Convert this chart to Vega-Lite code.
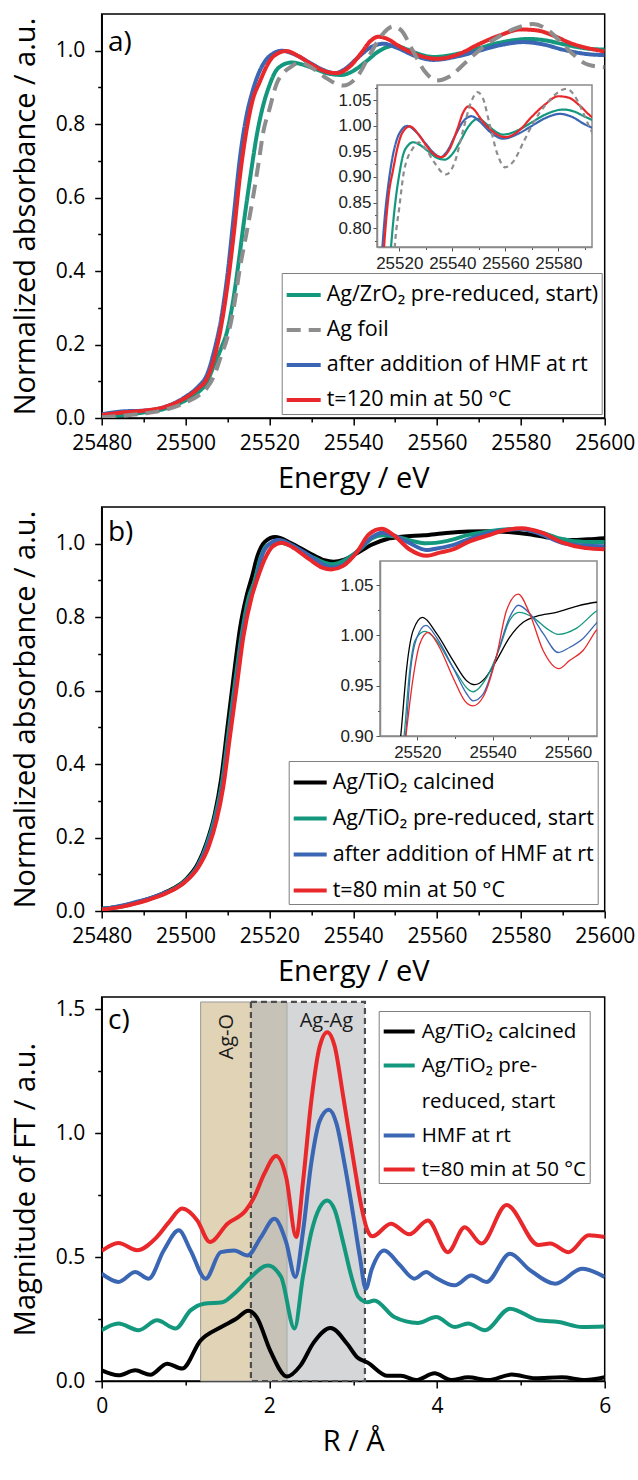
{
"$schema": "https://vega.github.io/schema/vega-lite/v6.json",
"autosize": {"type": "none"},
"padding": {"left": 101.7, "top": 14, "right": 536.3, "bottom": 1466},
"background": "white",
"config": {
  "font": "Open Sans",
  "view": {"stroke": "black", "strokeWidth": 1.5},
  "axis": {"grid": false, "domainColor": "black", "domainWidth": 1.5, "tickColor": "black", "tickWidth": 1.5, "tickSize": 7, "labelColor": "black", "labelFont": "Open Sans", "labelFontSize": 21, "titleFont": "Open Sans", "titleFontSize": 29, "titleFontWeight": "normal", "titleColor": "black", "labelFlush": false, "labelOverlap": false},
  "text": {"font": "Open Sans", "color": "black"},
  "style": {"guide-label": {"lineHeight": 36}}
},
"datasets": {
"xanes_a": [
{"series":"Ag/ZrO₂ pre-reduced, start)","E":25480,"A":0.003},{"series":"Ag/ZrO₂ pre-reduced, start)","E":25485,"A":0.008},{"series":"Ag/ZrO₂ pre-reduced, start)","E":25490,"A":0.015},{"series":"Ag/ZrO₂ pre-reduced, start)","E":25495,"A":0.025},{"series":"Ag/ZrO₂ pre-reduced, start)","E":25500,"A":0.048},{"series":"Ag/ZrO₂ pre-reduced, start)","E":25503,"A":0.07},{"series":"Ag/ZrO₂ pre-reduced, start)","E":25505,"A":0.095},{"series":"Ag/ZrO₂ pre-reduced, start)","E":25507,"A":0.15},{"series":"Ag/ZrO₂ pre-reduced, start)","E":25508.5,"A":0.19},{"series":"Ag/ZrO₂ pre-reduced, start)","E":25510,"A":0.24},{"series":"Ag/ZrO₂ pre-reduced, start)","E":25511.5,"A":0.33},{"series":"Ag/ZrO₂ pre-reduced, start)","E":25512.5,"A":0.41},{"series":"Ag/ZrO₂ pre-reduced, start)","E":25514,"A":0.54},{"series":"Ag/ZrO₂ pre-reduced, start)","E":25515.5,"A":0.66},{"series":"Ag/ZrO₂ pre-reduced, start)","E":25517,"A":0.77},{"series":"Ag/ZrO₂ pre-reduced, start)","E":25518.5,"A":0.85},{"series":"Ag/ZrO₂ pre-reduced, start)","E":25520,"A":0.905},{"series":"Ag/ZrO₂ pre-reduced, start)","E":25521.5,"A":0.944},{"series":"Ag/ZrO₂ pre-reduced, start)","E":25523,"A":0.96},{"series":"Ag/ZrO₂ pre-reduced, start)","E":25525.3,"A":0.968},{"series":"Ag/ZrO₂ pre-reduced, start)","E":25528,"A":0.962},{"series":"Ag/ZrO₂ pre-reduced, start)","E":25531,"A":0.95},{"series":"Ag/ZrO₂ pre-reduced, start)","E":25534,"A":0.938},{"series":"Ag/ZrO₂ pre-reduced, start)","E":25537.2,"A":0.934},{"series":"Ag/ZrO₂ pre-reduced, start)","E":25540,"A":0.945},{"series":"Ag/ZrO₂ pre-reduced, start)","E":25543,"A":0.97},{"series":"Ag/ZrO₂ pre-reduced, start)","E":25546,"A":0.998},{"series":"Ag/ZrO₂ pre-reduced, start)","E":25549.8,"A":1.014},{"series":"Ag/ZrO₂ pre-reduced, start)","E":25553,"A":1.003},{"series":"Ag/ZrO₂ pre-reduced, start)","E":25556,"A":0.99},{"series":"Ag/ZrO₂ pre-reduced, start)","E":25559.2,"A":0.983},{"series":"Ag/ZrO₂ pre-reduced, start)","E":25565,"A":0.992},{"series":"Ag/ZrO₂ pre-reduced, start)","E":25570,"A":1.007},{"series":"Ag/ZrO₂ pre-reduced, start)","E":25575,"A":1.022},{"series":"Ag/ZrO₂ pre-reduced, start)","E":25581.9,"A":1.032},{"series":"Ag/ZrO₂ pre-reduced, start)","E":25586,"A":1.028},{"series":"Ag/ZrO₂ pre-reduced, start)","E":25590,"A":1.018},{"series":"Ag/ZrO₂ pre-reduced, start)","E":25595.7,"A":1.006},{"series":"Ag/ZrO₂ pre-reduced, start)","E":25600,"A":1.003},
{"series":"after addition of HMF at rt","E":25480,"A":0.01},{"series":"after addition of HMF at rt","E":25485,"A":0.018},{"series":"after addition of HMF at rt","E":25490,"A":0.02},{"series":"after addition of HMF at rt","E":25495,"A":0.03},{"series":"after addition of HMF at rt","E":25500,"A":0.058},{"series":"after addition of HMF at rt","E":25503,"A":0.085},{"series":"after addition of HMF at rt","E":25505,"A":0.115},{"series":"after addition of HMF at rt","E":25507,"A":0.19},{"series":"after addition of HMF at rt","E":25508.5,"A":0.27},{"series":"after addition of HMF at rt","E":25510,"A":0.39},{"series":"after addition of HMF at rt","E":25511.5,"A":0.55},{"series":"after addition of HMF at rt","E":25513,"A":0.71},{"series":"after addition of HMF at rt","E":25514.5,"A":0.82},{"series":"after addition of HMF at rt","E":25516,"A":0.89},{"series":"after addition of HMF at rt","E":25517.5,"A":0.94},{"series":"after addition of HMF at rt","E":25519,"A":0.972},{"series":"after addition of HMF at rt","E":25521,"A":0.993},{"series":"after addition of HMF at rt","E":25523,"A":1.0},{"series":"after addition of HMF at rt","E":25526,"A":0.99},{"series":"after addition of HMF at rt","E":25530,"A":0.965},{"series":"after addition of HMF at rt","E":25533,"A":0.947},{"series":"after addition of HMF at rt","E":25535.6,"A":0.939},{"series":"after addition of HMF at rt","E":25538,"A":0.95},{"series":"after addition of HMF at rt","E":25541,"A":0.98},{"series":"after addition of HMF at rt","E":25544,"A":1.008},{"series":"after addition of HMF at rt","E":25547.3,"A":1.019},{"series":"after addition of HMF at rt","E":25550,"A":1.01},{"series":"after addition of HMF at rt","E":25555,"A":0.985},{"series":"after addition of HMF at rt","E":25559.2,"A":0.975},{"series":"after addition of HMF at rt","E":25565,"A":0.985},{"series":"after addition of HMF at rt","E":25570,"A":1.0},{"series":"after addition of HMF at rt","E":25575,"A":1.015},{"series":"after addition of HMF at rt","E":25580.6,"A":1.0235},{"series":"after addition of HMF at rt","E":25585,"A":1.018},{"series":"after addition of HMF at rt","E":25590,"A":1.003},{"series":"after addition of HMF at rt","E":25595.7,"A":0.991},{"series":"after addition of HMF at rt","E":25600,"A":0.988},
{"series":"t=120 min at 50 °C","E":25480,"A":0.008},{"series":"t=120 min at 50 °C","E":25485,"A":0.015},{"series":"t=120 min at 50 °C","E":25490,"A":0.02},{"series":"t=120 min at 50 °C","E":25495,"A":0.03},{"series":"t=120 min at 50 °C","E":25500,"A":0.055},{"series":"t=120 min at 50 °C","E":25503,"A":0.08},{"series":"t=120 min at 50 °C","E":25505,"A":0.105},{"series":"t=120 min at 50 °C","E":25507,"A":0.17},{"series":"t=120 min at 50 °C","E":25508.5,"A":0.25},{"series":"t=120 min at 50 °C","E":25510,"A":0.36},{"series":"t=120 min at 50 °C","E":25511.5,"A":0.5},{"series":"t=120 min at 50 °C","E":25513,"A":0.66},{"series":"t=120 min at 50 °C","E":25514.5,"A":0.78},{"series":"t=120 min at 50 °C","E":25516,"A":0.865},{"series":"t=120 min at 50 °C","E":25517.7,"A":0.915},{"series":"t=120 min at 50 °C","E":25519.6,"A":0.963},{"series":"t=120 min at 50 °C","E":25521,"A":0.985},{"series":"t=120 min at 50 °C","E":25524,"A":0.999},{"series":"t=120 min at 50 °C","E":25527,"A":0.985},{"series":"t=120 min at 50 °C","E":25530,"A":0.963},{"series":"t=120 min at 50 °C","E":25533,"A":0.945},{"series":"t=120 min at 50 °C","E":25536,"A":0.939},{"series":"t=120 min at 50 °C","E":25539,"A":0.955},{"series":"t=120 min at 50 °C","E":25542,"A":0.995},{"series":"t=120 min at 50 °C","E":25544,"A":1.025},{"series":"t=120 min at 50 °C","E":25546,"A":1.038},{"series":"t=120 min at 50 °C","E":25548,"A":1.033},{"series":"t=120 min at 50 °C","E":25551,"A":1.012},{"series":"t=120 min at 50 °C","E":25555,"A":0.99},{"series":"t=120 min at 50 °C","E":25560,"A":0.978},{"series":"t=120 min at 50 °C","E":25565,"A":0.99},{"series":"t=120 min at 50 °C","E":25570,"A":1.018},{"series":"t=120 min at 50 °C","E":25575,"A":1.042},{"series":"t=120 min at 50 °C","E":25580,"A":1.058},{"series":"t=120 min at 50 °C","E":25584,"A":1.055},{"series":"t=120 min at 50 °C","E":25588,"A":1.04},{"series":"t=120 min at 50 °C","E":25592,"A":1.02},{"series":"t=120 min at 50 °C","E":25596,"A":1.007},{"series":"t=120 min at 50 °C","E":25600,"A":0.998},
{"series":"Ag foil","E":25480,"A":0.002},{"series":"Ag foil","E":25485,"A":0.006},{"series":"Ag foil","E":25490,"A":0.012},{"series":"Ag foil","E":25495,"A":0.022},{"series":"Ag foil","E":25500,"A":0.042},{"series":"Ag foil","E":25503,"A":0.06},{"series":"Ag foil","E":25505,"A":0.08},{"series":"Ag foil","E":25507,"A":0.12},{"series":"Ag foil","E":25508.5,"A":0.17},{"series":"Ag foil","E":25510,"A":0.22},{"series":"Ag foil","E":25511.5,"A":0.3},{"series":"Ag foil","E":25513,"A":0.41},{"series":"Ag foil","E":25514.5,"A":0.5},{"series":"Ag foil","E":25516,"A":0.594},{"series":"Ag foil","E":25517.5,"A":0.7},{"series":"Ag foil","E":25518.5,"A":0.776},{"series":"Ag foil","E":25520,"A":0.84},{"series":"Ag foil","E":25521.8,"A":0.912},{"series":"Ag foil","E":25523,"A":0.935},{"series":"Ag foil","E":25525,"A":0.955},{"series":"Ag foil","E":25527.2,"A":0.968},{"series":"Ag foil","E":25530,"A":0.955},{"series":"Ag foil","E":25533,"A":0.93},{"series":"Ag foil","E":25537.6,"A":0.905},{"series":"Ag foil","E":25541,"A":0.93},{"series":"Ag foil","E":25544,"A":0.99},{"series":"Ag foil","E":25547,"A":1.045},{"series":"Ag foil","E":25549.5,"A":1.066},{"series":"Ag foil","E":25551.5,"A":1.055},{"series":"Ag foil","E":25554,"A":1.005},{"series":"Ag foil","E":25557,"A":0.945},{"series":"Ag foil","E":25559.9,"A":0.919},{"series":"Ag foil","E":25563,"A":0.93},{"series":"Ag foil","E":25567,"A":0.97},{"series":"Ag foil","E":25571,"A":1.01},{"series":"Ag foil","E":25575,"A":1.04},{"series":"Ag foil","E":25579,"A":1.062},{"series":"Ag foil","E":25582.9,"A":1.0725},{"series":"Ag foil","E":25586,"A":1.06},{"series":"Ag foil","E":25589,"A":1.03},{"series":"Ag foil","E":25592,"A":0.995},{"series":"Ag foil","E":25596,"A":0.962},{"series":"Ag foil","E":25600,"A":0.955}
],
"xanes_b": [
{"series":"Ag/TiO₂ calcined","E":25480,"A":0.006},{"series":"Ag/TiO₂ calcined","E":25485,"A":0.014},{"series":"Ag/TiO₂ calcined","E":25488,"A":0.022},{"series":"Ag/TiO₂ calcined","E":25491,"A":0.032},{"series":"Ag/TiO₂ calcined","E":25494.3,"A":0.046},{"series":"Ag/TiO₂ calcined","E":25497,"A":0.061},{"series":"Ag/TiO₂ calcined","E":25499.9,"A":0.084},{"series":"Ag/TiO₂ calcined","E":25503,"A":0.13},{"series":"Ag/TiO₂ calcined","E":25505,"A":0.185},{"series":"Ag/TiO₂ calcined","E":25507,"A":0.265},{"series":"Ag/TiO₂ calcined","E":25508.5,"A":0.36},{"series":"Ag/TiO₂ calcined","E":25510,"A":0.5},{"series":"Ag/TiO₂ calcined","E":25511.5,"A":0.64},{"series":"Ag/TiO₂ calcined","E":25513,"A":0.77},{"series":"Ag/TiO₂ calcined","E":25514.5,"A":0.855},{"series":"Ag/TiO₂ calcined","E":25515.85,"A":0.91},{"series":"Ag/TiO₂ calcined","E":25517.2,"A":0.968},{"series":"Ag/TiO₂ calcined","E":25518.9,"A":1.005},{"series":"Ag/TiO₂ calcined","E":25521.4,"A":1.018},{"series":"Ag/TiO₂ calcined","E":25525.1,"A":1.002},{"series":"Ag/TiO₂ calcined","E":25529.5,"A":0.975},{"series":"Ag/TiO₂ calcined","E":25533.1,"A":0.955},{"series":"Ag/TiO₂ calcined","E":25535.3,"A":0.951},{"series":"Ag/TiO₂ calcined","E":25537.9,"A":0.957},{"series":"Ag/TiO₂ calcined","E":25541,"A":0.975},{"series":"Ag/TiO₂ calcined","E":25544.5,"A":0.998},{"series":"Ag/TiO₂ calcined","E":25548.1,"A":1.013},{"series":"Ag/TiO₂ calcined","E":25551.6,"A":1.019},{"series":"Ag/TiO₂ calcined","E":25556.9,"A":1.023},{"series":"Ag/TiO₂ calcined","E":25562.2,"A":1.029},{"series":"Ag/TiO₂ calcined","E":25567.5,"A":1.033},{"series":"Ag/TiO₂ calcined","E":25572,"A":1.034},{"series":"Ag/TiO₂ calcined","E":25577,"A":1.032},{"series":"Ag/TiO₂ calcined","E":25582,"A":1.026},{"series":"Ag/TiO₂ calcined","E":25587,"A":1.016},{"series":"Ag/TiO₂ calcined","E":25592,"A":1.01},{"series":"Ag/TiO₂ calcined","E":25596,"A":1.012},{"series":"Ag/TiO₂ calcined","E":25600,"A":1.015},
{"series":"Ag/TiO₂ pre-reduced, start","E":25480,"A":0.006},{"series":"Ag/TiO₂ pre-reduced, start","E":25485,"A":0.013},{"series":"Ag/TiO₂ pre-reduced, start","E":25488,"A":0.021},{"series":"Ag/TiO₂ pre-reduced, start","E":25491,"A":0.031},{"series":"Ag/TiO₂ pre-reduced, start","E":25494.3,"A":0.045},{"series":"Ag/TiO₂ pre-reduced, start","E":25497,"A":0.059},{"series":"Ag/TiO₂ pre-reduced, start","E":25499.9,"A":0.082},{"series":"Ag/TiO₂ pre-reduced, start","E":25503,"A":0.125},{"series":"Ag/TiO₂ pre-reduced, start","E":25505,"A":0.178},{"series":"Ag/TiO₂ pre-reduced, start","E":25507,"A":0.255},{"series":"Ag/TiO₂ pre-reduced, start","E":25508.7,"A":0.35},{"series":"Ag/TiO₂ pre-reduced, start","E":25510.3,"A":0.49},{"series":"Ag/TiO₂ pre-reduced, start","E":25511.9,"A":0.63},{"series":"Ag/TiO₂ pre-reduced, start","E":25513.5,"A":0.76},{"series":"Ag/TiO₂ pre-reduced, start","E":25515,"A":0.85},{"series":"Ag/TiO₂ pre-reduced, start","E":25516.5,"A":0.9},{"series":"Ag/TiO₂ pre-reduced, start","E":25517.9,"A":0.962},{"series":"Ag/TiO₂ pre-reduced, start","E":25519.4,"A":0.995},{"series":"Ag/TiO₂ pre-reduced, start","E":25522,"A":1.004},{"series":"Ag/TiO₂ pre-reduced, start","E":25525.1,"A":0.995},{"series":"Ag/TiO₂ pre-reduced, start","E":25529.5,"A":0.968},{"series":"Ag/TiO₂ pre-reduced, start","E":25534.8,"A":0.944},{"series":"Ag/TiO₂ pre-reduced, start","E":25538.4,"A":0.958},{"series":"Ag/TiO₂ pre-reduced, start","E":25541.9,"A":0.988},{"series":"Ag/TiO₂ pre-reduced, start","E":25544.5,"A":1.015},{"series":"Ag/TiO₂ pre-reduced, start","E":25547,"A":1.023},{"series":"Ag/TiO₂ pre-reduced, start","E":25550.7,"A":1.018},{"series":"Ag/TiO₂ pre-reduced, start","E":25554.3,"A":1.007},{"series":"Ag/TiO₂ pre-reduced, start","E":25557.4,"A":1.001},{"series":"Ag/TiO₂ pre-reduced, start","E":25562.2,"A":1.007},{"series":"Ag/TiO₂ pre-reduced, start","E":25567.5,"A":1.024},{"series":"Ag/TiO₂ pre-reduced, start","E":25572,"A":1.033},{"series":"Ag/TiO₂ pre-reduced, start","E":25576,"A":1.039},{"series":"Ag/TiO₂ pre-reduced, start","E":25580,"A":1.04},{"series":"Ag/TiO₂ pre-reduced, start","E":25585,"A":1.03},{"series":"Ag/TiO₂ pre-reduced, start","E":25590,"A":1.012},{"series":"Ag/TiO₂ pre-reduced, start","E":25595,"A":1.005},{"series":"Ag/TiO₂ pre-reduced, start","E":25600,"A":1.005},
{"series":"after addition of HMF at rt","E":25480,"A":0.005},{"series":"after addition of HMF at rt","E":25485,"A":0.015},{"series":"after addition of HMF at rt","E":25488,"A":0.024},{"series":"after addition of HMF at rt","E":25491,"A":0.033},{"series":"after addition of HMF at rt","E":25494.3,"A":0.046},{"series":"after addition of HMF at rt","E":25497,"A":0.058},{"series":"after addition of HMF at rt","E":25499.9,"A":0.08},{"series":"after addition of HMF at rt","E":25503,"A":0.122},{"series":"after addition of HMF at rt","E":25505.2,"A":0.176},{"series":"after addition of HMF at rt","E":25507.2,"A":0.25},{"series":"after addition of HMF at rt","E":25508.9,"A":0.345},{"series":"after addition of HMF at rt","E":25510.5,"A":0.483},{"series":"after addition of HMF at rt","E":25512.1,"A":0.62},{"series":"after addition of HMF at rt","E":25513.7,"A":0.755},{"series":"after addition of HMF at rt","E":25515.5,"A":0.85},{"series":"after addition of HMF at rt","E":25517,"A":0.905},{"series":"after addition of HMF at rt","E":25518.2,"A":0.965},{"series":"after addition of HMF at rt","E":25519.8,"A":0.997},{"series":"after addition of HMF at rt","E":25522.3,"A":1.01},{"series":"after addition of HMF at rt","E":25525.1,"A":0.998},{"series":"after addition of HMF at rt","E":25529.5,"A":0.968},{"series":"after addition of HMF at rt","E":25533.1,"A":0.942},{"series":"after addition of HMF at rt","E":25534.8,"A":0.935},{"series":"after addition of HMF at rt","E":25537.5,"A":0.942},{"series":"after addition of HMF at rt","E":25541.5,"A":0.985},{"series":"after addition of HMF at rt","E":25544.5,"A":1.018},{"series":"after addition of HMF at rt","E":25546.8,"A":1.03},{"series":"after addition of HMF at rt","E":25549.8,"A":1.022},{"series":"after addition of HMF at rt","E":25553.4,"A":1.002},{"series":"after addition of HMF at rt","E":25557.4,"A":0.983},{"series":"after addition of HMF at rt","E":25560.4,"A":0.988},{"series":"after addition of HMF at rt","E":25564,"A":0.997},{"series":"after addition of HMF at rt","E":25567.5,"A":1.012},{"series":"after addition of HMF at rt","E":25572,"A":1.028},{"series":"after addition of HMF at rt","E":25576,"A":1.037},{"series":"after addition of HMF at rt","E":25580,"A":1.04},{"series":"after addition of HMF at rt","E":25585,"A":1.025},{"series":"after addition of HMF at rt","E":25590,"A":1.002},{"series":"after addition of HMF at rt","E":25595,"A":0.995},{"series":"after addition of HMF at rt","E":25600,"A":0.993},
{"series":"t=80 min at 50 °C","E":25480,"A":0.004},{"series":"t=80 min at 50 °C","E":25485,"A":0.012},{"series":"t=80 min at 50 °C","E":25488,"A":0.02},{"series":"t=80 min at 50 °C","E":25491,"A":0.03},{"series":"t=80 min at 50 °C","E":25494.3,"A":0.043},{"series":"t=80 min at 50 °C","E":25497,"A":0.057},{"series":"t=80 min at 50 °C","E":25499.9,"A":0.079},{"series":"t=80 min at 50 °C","E":25503.1,"A":0.12},{"series":"t=80 min at 50 °C","E":25505.5,"A":0.175},{"series":"t=80 min at 50 °C","E":25507.4,"A":0.247},{"series":"t=80 min at 50 °C","E":25509,"A":0.338},{"series":"t=80 min at 50 °C","E":25510.6,"A":0.475},{"series":"t=80 min at 50 °C","E":25512.2,"A":0.61},{"series":"t=80 min at 50 °C","E":25513.8,"A":0.747},{"series":"t=80 min at 50 °C","E":25515.8,"A":0.856},{"series":"t=80 min at 50 °C","E":25517.6,"A":0.92},{"series":"t=80 min at 50 °C","E":25518.9,"A":0.958},{"series":"t=80 min at 50 °C","E":25520.7,"A":0.992},{"series":"t=80 min at 50 °C","E":25522.9,"A":1.003},{"series":"t=80 min at 50 °C","E":25525.6,"A":0.99},{"series":"t=80 min at 50 °C","E":25529.5,"A":0.958},{"series":"t=80 min at 50 °C","E":25532.6,"A":0.935},{"series":"t=80 min at 50 °C","E":25534.8,"A":0.93},{"series":"t=80 min at 50 °C","E":25537.5,"A":0.939},{"series":"t=80 min at 50 °C","E":25541,"A":0.979},{"series":"t=80 min at 50 °C","E":25543.7,"A":1.025},{"series":"t=80 min at 50 °C","E":25546.8,"A":1.041},{"series":"t=80 min at 50 °C","E":25549.8,"A":1.022},{"series":"t=80 min at 50 °C","E":25553.4,"A":0.985},{"series":"t=80 min at 50 °C","E":25557.6,"A":0.967},{"series":"t=80 min at 50 °C","E":25560.4,"A":0.975},{"series":"t=80 min at 50 °C","E":25564,"A":0.985},{"series":"t=80 min at 50 °C","E":25567.5,"A":1.005},{"series":"t=80 min at 50 °C","E":25572,"A":1.022},{"series":"t=80 min at 50 °C","E":25576,"A":1.036},{"series":"t=80 min at 50 °C","E":25580.2,"A":1.042},{"series":"t=80 min at 50 °C","E":25585,"A":1.03},{"series":"t=80 min at 50 °C","E":25590,"A":1.003},{"series":"t=80 min at 50 °C","E":25595.4,"A":0.988},{"series":"t=80 min at 50 °C","E":25600,"A":0.985}
],
"ft_c": [
{"series":"Ag/TiO₂ calcined","R":0,"M":0.043},{"series":"Ag/TiO₂ calcined","R":0.2,"M":0.023},{"series":"Ag/TiO₂ calcined","R":0.4,"M":0.043},{"series":"Ag/TiO₂ calcined","R":0.58,"M":0.025},{"series":"Ag/TiO₂ calcined","R":0.78,"M":0.07},{"series":"Ag/TiO₂ calcined","R":0.96,"M":0.05},{"series":"Ag/TiO₂ calcined","R":1.18,"M":0.164},{"series":"Ag/TiO₂ calcined","R":1.42,"M":0.217},{"series":"Ag/TiO₂ calcined","R":1.6,"M":0.25},{"series":"Ag/TiO₂ calcined","R":1.75,"M":0.284},{"series":"Ag/TiO₂ calcined","R":1.85,"M":0.257},{"series":"Ag/TiO₂ calcined","R":2.01,"M":0.123},{"series":"Ag/TiO₂ calcined","R":2.21,"M":0.018},{"series":"Ag/TiO₂ calcined","R":2.37,"M":0.062},{"series":"Ag/TiO₂ calcined","R":2.53,"M":0.156},{"series":"Ag/TiO₂ calcined","R":2.73,"M":0.214},{"series":"Ag/TiO₂ calcined","R":2.93,"M":0.149},{"series":"Ag/TiO₂ calcined","R":3.05,"M":0.095},{"series":"Ag/TiO₂ calcined","R":3.17,"M":0.075},{"series":"Ag/TiO₂ calcined","R":3.41,"M":0.021},{"series":"Ag/TiO₂ calcined","R":3.57,"M":0.021},{"series":"Ag/TiO₂ calcined","R":3.75,"M":0.004},{"series":"Ag/TiO₂ calcined","R":3.97,"M":0.031},{"series":"Ag/TiO₂ calcined","R":4.17,"M":0.004},{"series":"Ag/TiO₂ calcined","R":4.37,"M":0.015},{"series":"Ag/TiO₂ calcined","R":4.61,"M":0.004},{"series":"Ag/TiO₂ calcined","R":4.89,"M":0.026},{"series":"Ag/TiO₂ calcined","R":5.17,"M":0.011},{"series":"Ag/TiO₂ calcined","R":5.49,"M":0.015},{"series":"Ag/TiO₂ calcined","R":5.77,"M":0.004},{"series":"Ag/TiO₂ calcined","R":6.0,"M":0.015},
{"series":"Ag/TiO₂ pre-reduced, start","R":0,"M":0.205},{"series":"Ag/TiO₂ pre-reduced, start","R":0.2,"M":0.232},{"series":"Ag/TiO₂ pre-reduced, start","R":0.44,"M":0.205},{"series":"Ag/TiO₂ pre-reduced, start","R":0.66,"M":0.245},{"series":"Ag/TiO₂ pre-reduced, start","R":0.88,"M":0.212},{"series":"Ag/TiO₂ pre-reduced, start","R":1.06,"M":0.285},{"series":"Ag/TiO₂ pre-reduced, start","R":1.22,"M":0.312},{"series":"Ag/TiO₂ pre-reduced, start","R":1.44,"M":0.318},{"series":"Ag/TiO₂ pre-reduced, start","R":1.58,"M":0.352},{"series":"Ag/TiO₂ pre-reduced, start","R":1.76,"M":0.413},{"series":"Ag/TiO₂ pre-reduced, start","R":1.98,"M":0.466},{"series":"Ag/TiO₂ pre-reduced, start","R":2.14,"M":0.42},{"series":"Ag/TiO₂ pre-reduced, start","R":2.3,"M":0.212},{"series":"Ag/TiO₂ pre-reduced, start","R":2.4,"M":0.42},{"series":"Ag/TiO₂ pre-reduced, start","R":2.5,"M":0.6},{"series":"Ag/TiO₂ pre-reduced, start","R":2.6,"M":0.7},{"series":"Ag/TiO₂ pre-reduced, start","R":2.69,"M":0.729},{"series":"Ag/TiO₂ pre-reduced, start","R":2.78,"M":0.69},{"series":"Ag/TiO₂ pre-reduced, start","R":2.88,"M":0.56},{"series":"Ag/TiO₂ pre-reduced, start","R":2.98,"M":0.42},{"series":"Ag/TiO₂ pre-reduced, start","R":3.06,"M":0.34},{"series":"Ag/TiO₂ pre-reduced, start","R":3.17,"M":0.318},{"series":"Ag/TiO₂ pre-reduced, start","R":3.25,"M":0.325},{"series":"Ag/TiO₂ pre-reduced, start","R":3.49,"M":0.258},{"series":"Ag/TiO₂ pre-reduced, start","R":3.77,"M":0.234},{"series":"Ag/TiO₂ pre-reduced, start","R":3.99,"M":0.258},{"series":"Ag/TiO₂ pre-reduced, start","R":4.21,"M":0.218},{"series":"Ag/TiO₂ pre-reduced, start","R":4.37,"M":0.232},{"series":"Ag/TiO₂ pre-reduced, start","R":4.57,"M":0.205},{"series":"Ag/TiO₂ pre-reduced, start","R":4.87,"M":0.292},{"series":"Ag/TiO₂ pre-reduced, start","R":5.21,"M":0.245},{"series":"Ag/TiO₂ pre-reduced, start","R":5.45,"M":0.238},{"series":"Ag/TiO₂ pre-reduced, start","R":5.73,"M":0.218},{"series":"Ag/TiO₂ pre-reduced, start","R":6.0,"M":0.22},
{"series":"HMF at rt","R":0,"M":0.433},{"series":"HMF at rt","R":0.2,"M":0.4},{"series":"HMF at rt","R":0.4,"M":0.44},{"series":"HMF at rt","R":0.56,"M":0.413},{"series":"HMF at rt","R":0.74,"M":0.527},{"series":"HMF at rt","R":0.92,"M":0.608},{"series":"HMF at rt","R":1.06,"M":0.527},{"series":"HMF at rt","R":1.24,"M":0.413},{"series":"HMF at rt","R":1.42,"M":0.52},{"series":"HMF at rt","R":1.58,"M":0.527},{"series":"HMF at rt","R":1.74,"M":0.507},{"series":"HMF at rt","R":1.9,"M":0.581},{"series":"HMF at rt","R":2.06,"M":0.655},{"series":"HMF at rt","R":2.2,"M":0.561},{"series":"HMF at rt","R":2.31,"M":0.42},{"series":"HMF at rt","R":2.4,"M":0.6},{"series":"HMF at rt","R":2.5,"M":0.88},{"series":"HMF at rt","R":2.6,"M":1.05},{"series":"HMF at rt","R":2.71,"M":1.095},{"series":"HMF at rt","R":2.8,"M":1.04},{"series":"HMF at rt","R":2.9,"M":0.87},{"series":"HMF at rt","R":3.0,"M":0.67},{"series":"HMF at rt","R":3.08,"M":0.5},{"series":"HMF at rt","R":3.15,"M":0.372},{"series":"HMF at rt","R":3.22,"M":0.45},{"series":"HMF at rt","R":3.37,"M":0.527},{"series":"HMF at rt","R":3.55,"M":0.47},{"series":"HMF at rt","R":3.73,"M":0.413},{"series":"HMF at rt","R":3.87,"M":0.44},{"series":"HMF at rt","R":3.97,"M":0.42},{"series":"HMF at rt","R":4.21,"M":0.386},{"series":"HMF at rt","R":4.41,"M":0.426},{"series":"HMF at rt","R":4.59,"M":0.4},{"series":"HMF at rt","R":4.87,"M":0.514},{"series":"HMF at rt","R":5.1,"M":0.45},{"series":"HMF at rt","R":5.41,"M":0.393},{"series":"HMF at rt","R":5.73,"M":0.453},{"series":"HMF at rt","R":6.0,"M":0.42},
{"series":"t=80 min at 50 °C","R":0,"M":0.525},{"series":"t=80 min at 50 °C","R":0.2,"M":0.557},{"series":"t=80 min at 50 °C","R":0.42,"M":0.528},{"series":"t=80 min at 50 °C","R":0.66,"M":0.582},{"series":"t=80 min at 50 °C","R":0.8,"M":0.64},{"series":"t=80 min at 50 °C","R":0.96,"M":0.696},{"series":"t=80 min at 50 °C","R":1.14,"M":0.648},{"series":"t=80 min at 50 °C","R":1.29,"M":0.561},{"series":"t=80 min at 50 °C","R":1.5,"M":0.635},{"series":"t=80 min at 50 °C","R":1.72,"M":0.689},{"series":"t=80 min at 50 °C","R":1.82,"M":0.743},{"series":"t=80 min at 50 °C","R":1.94,"M":0.837},{"series":"t=80 min at 50 °C","R":2.08,"M":0.908},{"series":"t=80 min at 50 °C","R":2.2,"M":0.823},{"series":"t=80 min at 50 °C","R":2.32,"M":0.581},{"series":"t=80 min at 50 °C","R":2.4,"M":0.8},{"series":"t=80 min at 50 °C","R":2.5,"M":1.13},{"series":"t=80 min at 50 °C","R":2.6,"M":1.35},{"series":"t=80 min at 50 °C","R":2.69,"M":1.408},{"series":"t=80 min at 50 °C","R":2.78,"M":1.35},{"series":"t=80 min at 50 °C","R":2.88,"M":1.15},{"series":"t=80 min at 50 °C","R":3.01,"M":0.877},{"series":"t=80 min at 50 °C","R":3.1,"M":0.7},{"series":"t=80 min at 50 °C","R":3.17,"M":0.608},{"series":"t=80 min at 50 °C","R":3.23,"M":0.584},{"series":"t=80 min at 50 °C","R":3.45,"M":0.635},{"series":"t=80 min at 50 °C","R":3.67,"M":0.592},{"series":"t=80 min at 50 °C","R":3.89,"M":0.648},{"series":"t=80 min at 50 °C","R":4.13,"M":0.52},{"series":"t=80 min at 50 °C","R":4.33,"M":0.621},{"series":"t=80 min at 50 °C","R":4.53,"M":0.555},{"series":"t=80 min at 50 °C","R":4.83,"M":0.71},{"series":"t=80 min at 50 °C","R":5.21,"M":0.549},{"series":"t=80 min at 50 °C","R":5.35,"M":0.555},{"series":"t=80 min at 50 °C","R":5.57,"M":0.52},{"series":"t=80 min at 50 °C","R":5.81,"M":0.588},{"series":"t=80 min at 50 °C","R":6.0,"M":0.581}
]
},
"bounds": "flush",
"spacing": 71,
"resolve": {"scale": {"color": "independent", "strokeDash": "independent"}},
"vconcat": [
 {"bounds": "flush", "resolve": {"scale": {"color": "independent", "strokeDash": "independent"}}, "vconcat": [
  {"width": 503, "height": 404, "data": {"name": "xanes_a"},
   "encoding": {
    "x": {"field": "E", "type": "quantitative", "scale": {"domain": [25480, 25600], "nice": false, "zero": false},
          "axis": {"title": "Energy / eV", "values": [25480,25490,25500,25510,25520,25530,25540,25550,25560,25570,25580,25590,25600], "format": "d", "labelExpr": "datum.value % 20 === 0 ? datum.label : ''", "tickSize": {"condition": {"test": "datum.value % 20 === 0", "value": 7}, "value": 4}, "labelPadding": 7, "titlePadding": 11}},
    "y": {"field": "A", "type": "quantitative", "scale": {"domain": [0, 1.1], "nice": false},
          "axis": {"title": "Normalized absorbance / a.u.", "values": [0,0.1,0.2,0.3,0.4,0.5,0.6,0.7,0.8,0.9,1.0], "labelExpr": "round(datum.value*10) % 2 === 0 ? format(datum.value, '.1f') : ''", "tickSize": {"condition": {"test": "round(datum.value*10) % 2 === 0", "value": 7}, "value": 4}, "labelPadding": 10, "titlePadding": 15}}
   },
   "layer": [
    {"mark": {"type": "line", "strokeWidth": 4, "clip": true, "interpolate": "monotone"},
     "encoding": {
      "color": {"field": "series", "type": "nominal",
            "scale": {"domain": ["Ag/ZrO₂ pre-reduced, start)", "Ag foil", "after addition of HMF at rt", "t=120 min at 50 °C"], "range": ["#13987e", "#8d8d8d", "#3b66b3", "#e8282b"]},
            "legend": {"title": null, "orient": "none", "legendX": 180, "legendY": 259, "symbolType": "stroke", "symbolSize": 1156, "symbolStrokeWidth": 4, "labelFontSize": 21.5, "labelFont": "Open Sans", "labelColor": "black", "labelLimit": 500, "strokeColor": "#7f7f7f", "fillColor": "white", "padding": 3, "rowPadding": 5, "labelOffset": 4}},
      "strokeDash": {"field": "series", "type": "nominal",
            "scale": {"domain": ["Ag/ZrO₂ pre-reduced, start)", "Ag foil", "after addition of HMF at rt", "t=120 min at 50 °C"], "range": [[1,0],[14,8],[1,0],[1,0]]},
            "legend": {"title": null, "orient": "none", "legendX": 180, "legendY": 259, "symbolType": "stroke", "symbolSize": 1156, "symbolStrokeWidth": 4, "labelFontSize": 21.5, "labelFont": "Open Sans", "labelColor": "black", "labelLimit": 500, "strokeColor": "#7f7f7f", "fillColor": "white", "padding": 3, "rowPadding": 5, "labelOffset": 4}}
     }},
    {"data": {"values": [{"label": "a)", "E": 25481.5, "A": 1.022}]},
     "mark": {"type": "text", "align": "left", "baseline": "middle", "fontSize": 28},
     "encoding": {"text": {"field": "label"}}}
   ]}
 ]},
 {"bounds": "flush", "spacing": 422, "resolve": {"scale": {"color": "independent", "strokeDash": "independent"}}, "vconcat": [
  {"bounds": "flush", "spacing": 275.3, "resolve": {"scale": {"color": "independent", "strokeDash": "independent"}}, "hconcat": [
   {"bounds": "flush", "vconcat": [{"width": 1, "height": 1, "data": {"values": [{"k": 0}]}, "mark": {"type": "point", "opacity": 0}, "view": {"stroke": null}}]},
   {"bounds": "flush", "resolve": {"scale": {"color": "independent", "strokeDash": "independent"}}, "vconcat": [
    {"width": 215, "height": 162, "data": {"name": "xanes_a"},
     "view": {"stroke": "#8a8a8a", "strokeWidth": 1.5, "fill": "white"},
     "mark": {"type": "line", "strokeWidth": 2.2, "clip": true, "interpolate": "monotone"},
     "encoding": {
      "x": {"field": "E", "type": "quantitative", "scale": {"domain": [25511.6, 25592.7], "nice": false, "zero": false},
            "axis": {"title": null, "values": [25520,25530,25540,25550,25560,25570,25580,25590], "format": "d", "labelExpr": "datum.value % 20 === 0 ? datum.label : ''", "tickSize": {"condition": {"test": "datum.value % 20 === 0", "value": 4}, "value": 2.5}, "labelFont": "Liberation Sans", "labelFontSize": 17, "labelColor": "#222222", "domainColor": "#8a8a8a", "domainWidth": 1.5, "tickColor": "#555555", "tickWidth": 1, "labelPadding": 4}},
      "y": {"field": "A", "type": "quantitative", "scale": {"domain": [0.763, 1.08], "nice": false, "zero": false},
            "axis": {"title": null, "values": [0.775,0.8,0.825,0.85,0.875,0.9,0.925,0.95,0.975,1.0,1.025,1.05,1.075], "labelExpr": "round(datum.value*40) % 2 === 0 ? format(datum.value, '.2f') : ''", "tickSize": {"condition": {"test": "round(datum.value*40) % 2 === 0", "value": 4}, "value": 2.5}, "labelFont": "Liberation Sans", "labelFontSize": 17, "labelColor": "#222222", "domainColor": "#8a8a8a", "domainWidth": 1.5, "tickColor": "#555555", "tickWidth": 1, "labelPadding": 2}},
      "color": {"field": "series", "type": "nominal", "scale": {"domain": ["Ag/ZrO₂ pre-reduced, start)", "Ag foil", "after addition of HMF at rt", "t=120 min at 50 °C"], "range": ["#13987e", "#8d8d8d", "#3b66b3", "#e8282b"]}, "legend": null},
      "strokeDash": {"field": "series", "type": "nominal", "scale": {"domain": ["Ag/ZrO₂ pre-reduced, start)", "Ag foil", "after addition of HMF at rt", "t=120 min at 50 °C"], "range": [[1,0],[5,4],[1,0],[1,0]]}, "legend": null}
     }}
   ]}
  ]},
  {"bounds": "flush", "spacing": 54, "resolve": {"scale": {"color": "independent", "strokeDash": "independent"}}, "vconcat": [
   {"bounds": "flush", "resolve": {"scale": {"color": "independent", "strokeDash": "independent"}}, "vconcat": [
    {"width": 503, "height": 404, "data": {"name": "xanes_b"},
     "encoding": {
      "x": {"field": "E", "type": "quantitative", "scale": {"domain": [25480, 25600], "nice": false, "zero": false},
            "axis": {"title": "Energy / eV", "values": [25480,25490,25500,25510,25520,25530,25540,25550,25560,25570,25580,25590,25600], "format": "d", "labelExpr": "datum.value % 20 === 0 ? datum.label : ''", "tickSize": {"condition": {"test": "datum.value % 20 === 0", "value": 7}, "value": 4}, "labelPadding": 7, "titlePadding": 11}},
      "y": {"field": "A", "type": "quantitative", "scale": {"domain": [0, 1.1], "nice": false},
            "axis": {"title": "Normalized absorbance / a.u.", "values": [0,0.1,0.2,0.3,0.4,0.5,0.6,0.7,0.8,0.9,1.0], "labelExpr": "round(datum.value*10) % 2 === 0 ? format(datum.value, '.1f') : ''", "tickSize": {"condition": {"test": "round(datum.value*10) % 2 === 0", "value": 7}, "value": 4}, "labelPadding": 10, "titlePadding": 15}}
     },
     "layer": [
      {"mark": {"type": "line", "strokeWidth": 4, "clip": true, "interpolate": "monotone"},
       "encoding": {
        "color": {"field": "series", "type": "nominal",
              "scale": {"domain": ["Ag/TiO₂ calcined", "Ag/TiO₂ pre-reduced, start", "after addition of HMF at rt", "t=80 min at 50 °C"], "range": ["#000000", "#13987e", "#3b66b3", "#e8282b"]},
              "legend": {"title": null, "orient": "none", "legendX": 187, "legendY": 254, "symbolType": "stroke", "symbolSize": 1089, "symbolStrokeWidth": 4, "labelFontSize": 21.5, "labelFont": "Open Sans", "labelColor": "black", "labelLimit": 500, "strokeColor": "#7f7f7f", "fillColor": "white", "padding": 3, "rowPadding": 7, "labelOffset": 4}}
       }},
      {"data": {"values": [{"label": "b)", "E": 25481.5, "A": 1.03}]},
       "mark": {"type": "text", "align": "left", "baseline": "middle", "fontSize": 28},
       "encoding": {"text": {"field": "label"}}}
     ]}
   ]},
   {"bounds": "flush", "spacing": 436, "resolve": {"scale": {"color": "independent", "strokeDash": "independent"}}, "vconcat": [
    {"bounds": "flush", "spacing": 278.3, "resolve": {"scale": {"color": "independent", "strokeDash": "independent"}}, "hconcat": [
     {"bounds": "flush", "vconcat": [{"width": 1, "height": 1, "data": {"values": [{"k": 0}]}, "mark": {"type": "point", "opacity": 0}, "view": {"stroke": null}}]},
     {"bounds": "flush", "resolve": {"scale": {"color": "independent", "strokeDash": "independent"}}, "vconcat": [
      {"width": 217, "height": 175, "data": {"name": "xanes_b"},
       "view": {"stroke": "#8a8a8a", "strokeWidth": 1.5, "fill": "white"},
       "mark": {"type": "line", "strokeWidth": 1.3, "clip": true, "interpolate": "monotone"},
       "encoding": {
        "x": {"field": "E", "type": "quantitative", "scale": {"domain": [25510.1, 25567.7], "nice": false, "zero": false},
              "axis": {"title": null, "values": [25520,25530,25540,25550,25560], "format": "d", "labelExpr": "datum.value % 20 === 0 ? datum.label : ''", "tickSize": {"condition": {"test": "datum.value % 20 === 0", "value": 4}, "value": 2.5}, "labelFont": "Liberation Sans", "labelFontSize": 17, "labelColor": "#222222", "domainColor": "#8a8a8a", "domainWidth": 1.5, "tickColor": "#555555", "tickWidth": 1, "labelPadding": 4}},
        "y": {"field": "A", "type": "quantitative", "scale": {"domain": [0.9, 1.074], "nice": false, "zero": false},
              "axis": {"title": null, "values": [0.9,0.925,0.95,0.975,1.0,1.025,1.05], "labelExpr": "round(datum.value*40) % 2 === 0 ? format(datum.value, '.2f') : ''", "tickSize": {"condition": {"test": "round(datum.value*40) % 2 === 0", "value": 4}, "value": 2.5}, "labelFont": "Liberation Sans", "labelFontSize": 17, "labelColor": "#222222", "domainColor": "#8a8a8a", "domainWidth": 1.5, "tickColor": "#555555", "tickWidth": 1, "labelPadding": 3}},
        "color": {"field": "series", "type": "nominal", "scale": {"domain": ["Ag/TiO₂ calcined", "Ag/TiO₂ pre-reduced, start", "after addition of HMF at rt", "t=80 min at 50 °C"], "range": ["#000000", "#13987e", "#3b66b3", "#e8282b"]}, "legend": null}
       }}
     ]}
    ]},
    {"bounds": "flush", "resolve": {"scale": {"color": "independent", "strokeDash": "independent"}}, "vconcat": [
     {"width": 503, "height": 384,
      "encoding": {
       "x": {"field": "R", "type": "quantitative", "scale": {"domain": [0, 6], "nice": false, "zero": false},
             "axis": {"title": "R / Å", "values": [0,1,2,3,4,5,6], "labelExpr": "datum.value % 2 === 0 ? datum.label : ''", "tickSize": {"condition": {"test": "datum.value % 2 === 0", "value": 7}, "value": 4}, "labelPadding": 7, "titlePadding": 11}},
       "y": {"field": "M", "type": "quantitative", "scale": {"domain": [0, 1.55], "nice": false},
             "axis": {"title": "Magnitude of FT / a.u.", "values": [0,0.25,0.5,0.75,1.0,1.25,1.5], "labelExpr": "round(datum.value*4) % 2 === 0 ? format(datum.value, '.1f') : ''", "tickSize": {"condition": {"test": "round(datum.value*4) % 2 === 0", "value": 7}, "value": 4}, "labelPadding": 10, "titlePadding": 15}}
      },
      "layer": [
       {"data": {"values": [{"R": 1.18, "R_end": 2.21, "M": 0, "M_end": 1.53}]},
        "mark": {"type": "rect", "fill": "#e0d3b6", "stroke": "#9a9a9a", "strokeWidth": 1},
        "encoding": {"x2": {"field": "R_end"}, "y2": {"field": "M_end"}}},
       {"data": {"values": [{"R": 1.78, "R_end": 3.14, "M": 0, "M_end": 1.53}]},
        "mark": {"type": "rect", "fill": "#b3b5b8", "fillOpacity": 0.55, "stroke": "#4d4d4d", "strokeWidth": 2.2, "strokeDash": [6, 4]},
        "encoding": {"x2": {"field": "R_end"}, "y2": {"field": "M_end"}}},
       {"data": {"values": [{"label": "Ag-O", "R": 1.5, "M": 1.39}]},
        "mark": {"type": "text", "angle": 270, "align": "center", "baseline": "middle", "fontSize": 20, "color": "#1a1a1a"},
        "encoding": {"text": {"field": "label"}}},
       {"data": {"values": [{"label": "Ag-Ag", "R": 2.68, "M": 1.455}]},
        "mark": {"type": "text", "align": "center", "baseline": "middle", "fontSize": 20, "color": "#1a1a1a"},
        "encoding": {"text": {"field": "label"}}},
       {"data": {"name": "ft_c"},
        "mark": {"type": "line", "strokeWidth": 4, "clip": true, "interpolate": "monotone"},
        "encoding": {
         "color": {"field": "series", "type": "nominal",
               "scale": {"domain": ["Ag/TiO₂ calcined", "Ag/TiO₂ pre-reduced, start", "HMF at rt", "t=80 min at 50 °C"], "range": ["#000000", "#13987e", "#3b66b3", "#e8282b"]},
               "legend": {"title": null, "orient": "none", "legendX": 277, "legendY": 14, "symbolType": "stroke", "symbolSize": 961, "symbolStrokeWidth": 4, "labelFontSize": 20.5, "labelFont": "Open Sans", "labelColor": "black", "labelLimit": 500, "strokeColor": "#7f7f7f", "fillColor": "white", "padding": 3, "rowPadding": 6, "labelOffset": 5,
                          "labelExpr": "datum.label == 'Ag/TiO₂ pre-reduced, start' ? ['Ag/TiO₂ pre-', 'reduced, start'] : datum.label"}}
        }},
       {"data": {"values": [{"label": "c)", "R": 0.075, "M": 1.455}]},
        "mark": {"type": "text", "align": "left", "baseline": "middle", "fontSize": 28},
        "encoding": {"text": {"field": "label"}}}
      ]}
    ]}
   ]}
  ]}
 ]}
]
}
